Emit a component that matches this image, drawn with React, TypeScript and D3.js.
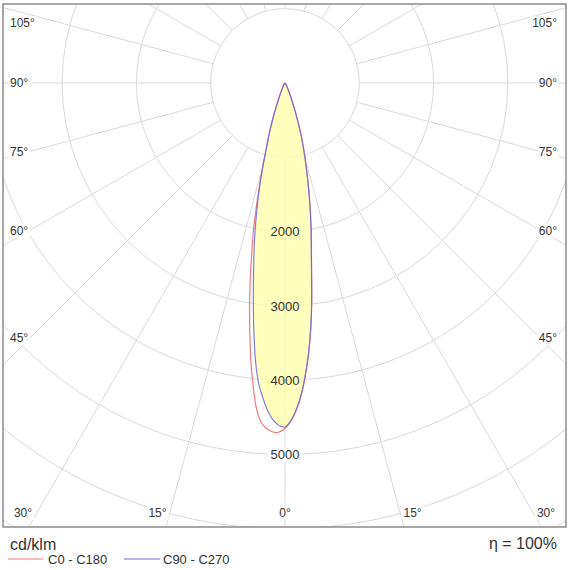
import React from 'react';
import * as d3 from 'd3';

// ---------- data (cd/klm, gamma in degrees measured from nadir) ----------
const gammaDeg = [0, 1, 2, 3, 4, 5, 6, 7, 8, 9, 10, 11, 12, 13, 14, 15, 16, 17, 18, 19, 20, 22, 25, 30, 35, 40, 50, 60, 90];
// C0 (right half of the red curve)
const c0 = [4640, 4550, 4400, 4200, 3940, 3650, 3320, 2950, 2570, 2270, 2030, 1800, 1585, 1385, 1200, 1040, 890, 760, 620, 490, 380, 230, 115, 40, 15, 5, 0, 0, 0];
// C180 (left half of the red curve)
const c180 = [4650, 4700, 4700, 4660, 4580, 4400, 4100, 3770, 3400, 3050, 2700, 2350, 2050, 1720, 1410, 1140, 900, 760, 620, 480, 370, 215, 105, 40, 15, 5, 0, 0, 0];
// C90 (right half of the blue curve)
const c90 = [4630, 4545, 4395, 4195, 3935, 3645, 3315, 2945, 2565, 2265, 2025, 1795, 1580, 1380, 1195, 1035, 885, 755, 615, 485, 375, 225, 112, 40, 15, 5, 0, 0, 0];
// C270 (left half of the blue curve)
const c270 = [4630, 4610, 4540, 4420, 4250, 4060, 3780, 3420, 3060, 2720, 2420, 2150, 1880, 1620, 1370, 1130, 895, 755, 615, 478, 368, 212, 104, 40, 15, 5, 0, 0, 0];

const ringValues = [1000, 2000, 3000, 4000, 5000, 6000, 7000, 8000];
const ringLabelValues = [2000, 3000, 4000, 5000];
const spokeDeg = [0, 15, 30, 45, 60, 75, 90, 105, 120, 135, 150, 165, 180, 195, 210, 225, 240, 255, 270, 285, 300, 315, 330, 345];
const angleLabelDeg = [0, 15, 30, 45, 60, 75, 90, 105];
const unitLabel = 'cd/klm';
const seriesNames = ['C0 - C180', 'C90 - C270'];
const efficiencyLabel = 'η = 100%';

// ---------- layout ----------
const W = 570;
const H = 570;
const CX = 285;
const CY = 83;
const FX = 3, FY = 4, FW = 563, FH = 523;
const SIDE_REACH = 255; // horizontal reach used to position side labels
const BOTTOM_REACH = 476; // vertical reach used to position bottom labels
const LBL_L = 23, LBL_R = 546, LBL_T = 23, LBL_B = 513;
const FONT = '"Liberation Sans", Arial, Helvetica, sans-serif';
const RED = '#ef7a7a';
const BLUE = '#6a6ad8';
const GRID = '#dadada';
const TXT = '#333333';

const rScale = d3.scaleLinear().domain([0, 1000]).range([0, 74.3]);
const rad = (d: number) => (d * Math.PI) / 180;

function closedCurve(left: number[], right: number[]): string {
  const pts: [number, number][] = [];
  for (let i = gammaDeg.length - 1; i >= 0; i--) pts.push([Math.PI + rad(gammaDeg[i]), rScale(left[i])]);
  for (let i = 1; i < gammaDeg.length; i++) pts.push([Math.PI - rad(gammaDeg[i]), rScale(right[i])]);
  const gen = d3
    .lineRadial<[number, number]>()
    .angle((d) => d[0])
    .radius((d) => d[1])
    .curve(d3.curveCatmullRom.alpha(0.5));
  return gen(pts) || '';
}

type Lbl = { x: number; y: number; anchor: 'start' | 'middle' | 'end'; text: string };

function angleLabels(): Lbl[] {
  const out: Lbl[] = [];
  angleLabelDeg.forEach((deg) => {
    const sides = deg === 0 ? [1] : [-1, 1];
    sides.forEach((side) => {
      const g = rad(deg);
      const dx = Math.sin(g) * side;
      const dy = Math.cos(g);
      const tx = dx !== 0 ? ((side < 0 ? LBL_L : LBL_R) - CX) / dx : Infinity;
      const ty = dy > 0 ? (LBL_B - CY) / dy : Infinity;
      const text = `${deg}°`;
      if (ty <= tx) {
        const x = Math.max(LBL_L, Math.min(LBL_R, CX + Math.tan(g) * side * BOTTOM_REACH));
        out.push({ x, y: LBL_B, anchor: 'middle', text });
      } else {
        const y = Math.max(LBL_T, Math.min(LBL_B, CY + (dy / Math.sin(g)) * SIDE_REACH));
        out.push({ x: side < 0 ? 10 : 557, y, anchor: side < 0 ? 'start' : 'end', text });
      }
    });
  });
  return out;
}

function textWidth(s: string, size: number) {
  let w = 0;
  for (const ch of s) w += ch === '°' ? 0.4 * size : 0.556 * size;
  return w;
}

export default function App() {
  const redPath = closedCurve(c180, c0);
  const bluePath = closedCurve(c270, c90);
  const labels = angleLabels();
  const rMax = rScale(9000);
  const peak = d3.max([...c0, ...c180, ...c90, ...c270]) || 0;

  return (
    <svg
      width={W}
      height={H}
      viewBox={`0 0 ${W} ${H}`}
      style={{ position: 'absolute', left: 0, top: 0, background: '#fff', fontFamily: FONT }}
    >
      <defs>
        <clipPath id="frameClip">
          <rect x={FX} y={FY} width={FW} height={FH} />
        </clipPath>
      </defs>
      <rect x={0} y={0} width={W} height={H} fill="#fff" />

      <g clipPath="url(#frameClip)">
        <g transform={`translate(${CX},${CY})`}>
          {ringValues.map((v) => (
            <circle key={v} r={rScale(v)} fill="none" stroke={GRID} strokeWidth={1} />
          ))}
          {spokeDeg.map((deg) => {
            const g = rad(deg);
            const r0 = rScale(1000);
            return (
              <line
                key={deg}
                x1={Math.sin(g) * r0}
                y1={Math.cos(g) * r0}
                x2={Math.sin(g) * rMax}
                y2={Math.cos(g) * rMax}
                stroke={GRID}
                strokeWidth={1}
              />
            );
          })}
          <path d={bluePath} fill="#ffffa8" fillOpacity={0.75} stroke="none" />
          <path d={redPath} fill="none" stroke={RED} strokeWidth={1.2} />
          <path d={bluePath} fill="none" stroke={BLUE} strokeWidth={1.2} strokeOpacity={0.85} />
          {ringLabelValues.map((v) => {
            const w = textWidth(String(v), 13);
            return (
              <g key={v}>
                {rScale(v) > rScale(peak) + 8 && (
                  <rect x={-w / 2 - 2} y={rScale(v) - 7} width={w + 4} height={14} fill="#fff" />
                )}
                <text x={0} y={rScale(v)} dy="0.36em" textAnchor="middle" fontSize={13} fill={TXT}>
                  {v}
                </text>
              </g>
            );
          })}
        </g>
        {labels.map((l, i) => {
          const w = textWidth(l.text, 12);
          const x0 = l.anchor === 'start' ? l.x : l.anchor === 'end' ? l.x - w : l.x - w / 2;
          return (
            <g key={i}>
              <rect x={x0 - 2} y={l.y - 7} width={w + 4} height={14} fill="#fff" />
              <text x={l.x} y={l.y} dy="0.36em" textAnchor={l.anchor} fontSize={12} fill={TXT}>
                {l.text}
              </text>
            </g>
          );
        })}
      </g>

      <rect x={FX} y={FY} width={FW} height={FH} fill="none" stroke="#8a8a8a" strokeWidth={1.5} />

      <text x={10} y={550} fontSize={16} fill={TXT}>
        {unitLabel}
      </text>
      <line x1={8} x2={43} y1={559} y2={559} stroke={RED} strokeWidth={1} />
      <text x={48} y={564} fontSize={13} fill={TXT}>
        {seriesNames[0]}
      </text>
      <line x1={124} x2={160} y1={559} y2={559} stroke={BLUE} strokeWidth={1} />
      <text x={163} y={564} fontSize={13} fill={TXT}>
        {seriesNames[1]}
      </text>
      <text x={557} y={549} fontSize={16} textAnchor="end" fill={TXT}>
        {efficiencyLabel}
      </text>
    </svg>
  );
}
